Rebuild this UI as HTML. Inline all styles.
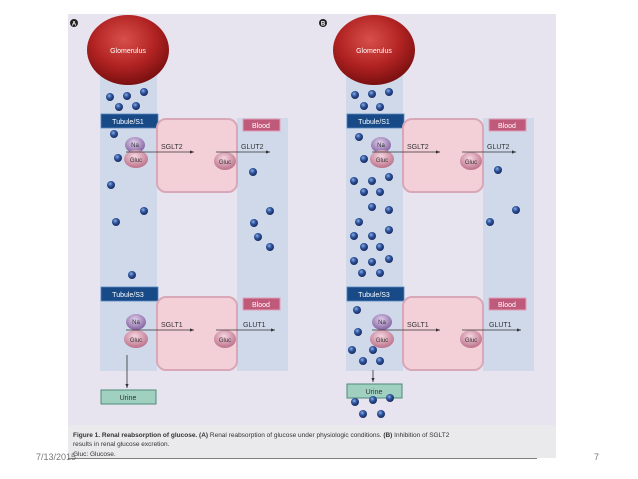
<!DOCTYPE html>
<html><head><style>
html,body{margin:0;padding:0;background:#fff;width:638px;height:479px;overflow:hidden}
svg{display:block}
text{font-family:"Liberation Sans",sans-serif}
</style></head><body>
<svg width="638" height="479" viewBox="0 0 638 479" xmlns="http://www.w3.org/2000/svg">
<defs>
<radialGradient id="glom" cx="45%" cy="35%" r="65%">
<stop offset="0" stop-color="#d8504a"/><stop offset="0.6" stop-color="#b02222"/><stop offset="1" stop-color="#7a1010"/></radialGradient>
<radialGradient id="dot" cx="40%" cy="35%" r="60%"><stop offset="0" stop-color="#8fb0e0"/><stop offset="0.5" stop-color="#2f56a0"/><stop offset="1" stop-color="#1b2f66"/></radialGradient>
<radialGradient id="na" cx="45%" cy="35%" r="60%"><stop offset="0" stop-color="#e0d0ec"/><stop offset="1" stop-color="#8a6aa6"/></radialGradient>
<radialGradient id="gl" cx="45%" cy="35%" r="60%"><stop offset="0" stop-color="#f6d6e0"/><stop offset="1" stop-color="#c07890"/></radialGradient>
<marker id="ar" markerWidth="6" markerHeight="6" refX="5" refY="3" orient="auto"><path d="M0,1 L5,3 L0,5z" fill="#333"/></marker>
<g id="panel">
<rect x="100" y="75" width="57" height="296" fill="#cfd9ea"/>
<rect x="237" y="118" width="51" height="253" fill="#cfd9ea"/>
<ellipse cx="128" cy="50" rx="41" ry="35" fill="url(#glom)"/>
<text x="128" y="53" font-size="7" fill="#fff" text-anchor="middle">Glomerulus</text>
<rect x="101" y="114" width="57" height="14" fill="#174a86" stroke="#5b85c0" stroke-width="0.8"/>
<text x="128" y="124" font-size="7" fill="#fff" text-anchor="middle">Tubule/S1</text>
<rect x="157" y="119" width="80" height="73" rx="9" fill="#f3cfd8" stroke="#d8a8b8" stroke-width="2"/>
<rect x="243" y="119" width="37" height="12" fill="#c05a7a" stroke="#e0a0b8"/>
<text x="261" y="128" font-size="7" fill="#fff" text-anchor="middle">Blood</text>
<ellipse cx="135" cy="145" rx="10" ry="8" fill="url(#na)"/><text x="135" y="147" font-size="6" fill="#333" text-anchor="middle">Na</text>
<ellipse cx="136" cy="159" rx="12" ry="9" fill="url(#gl)"/><text x="136" y="162" font-size="6" fill="#333" text-anchor="middle">Gluc</text>
<line x1="126" y1="152" x2="194" y2="152" stroke="#333" stroke-width="0.8" marker-end="url(#ar)"/>
<text x="161" y="149" font-size="7" fill="#333">SGLT2</text>
<ellipse cx="225" cy="161" rx="11" ry="9" fill="url(#gl)"/><text x="225" y="164" font-size="6" fill="#333" text-anchor="middle">Gluc</text>
<line x1="216" y1="152" x2="270" y2="152" stroke="#333" stroke-width="0.8" marker-end="url(#ar)"/>
<text x="241" y="149" font-size="7" fill="#333">GLUT2</text>
<rect x="101" y="287" width="57" height="14" fill="#174a86" stroke="#5b85c0" stroke-width="0.8"/>
<text x="128" y="297" font-size="7" fill="#fff" text-anchor="middle">Tubule/S3</text>
<rect x="157" y="297" width="80" height="73" rx="9" fill="#f3cfd8" stroke="#d8a8b8" stroke-width="2"/>
<rect x="243" y="298" width="37" height="12" fill="#c05a7a" stroke="#e0a0b8"/>
<text x="261" y="307" font-size="7" fill="#fff" text-anchor="middle">Blood</text>
<ellipse cx="136" cy="322" rx="10" ry="8" fill="url(#na)"/><text x="136" y="324" font-size="6" fill="#333" text-anchor="middle">Na</text>
<ellipse cx="136" cy="339" rx="12" ry="9" fill="url(#gl)"/><text x="136" y="342" font-size="6" fill="#333" text-anchor="middle">Gluc</text>
<line x1="126" y1="330" x2="194" y2="330" stroke="#333" stroke-width="0.8" marker-end="url(#ar)"/>
<text x="161" y="327" font-size="7" fill="#333">SGLT1</text>
<ellipse cx="225" cy="339" rx="11" ry="9" fill="url(#gl)"/><text x="225" y="342" font-size="6" fill="#333" text-anchor="middle">Gluc</text>
<line x1="216" y1="330" x2="275" y2="330" stroke="#333" stroke-width="0.8" marker-end="url(#ar)"/>
<text x="243" y="327" font-size="7" fill="#333">GLUT1</text>
</g>
</defs>
<rect x="68" y="14" width="488" height="411" fill="#e7e4f0"/>
<rect x="68" y="425" width="488" height="33" fill="#eae9ec"/>
<circle cx="74" cy="23" r="4" fill="#222"/><text x="74" y="25.5" font-size="6" fill="#fff" text-anchor="middle" font-weight="bold">A</text>
<circle cx="323" cy="23" r="4" fill="#222"/><text x="323" y="25.5" font-size="6" fill="#fff" text-anchor="middle" font-weight="bold">B</text>
<use href="#panel"/>
<use href="#panel" transform="translate(246,0)"/>
<!-- urine A -->
<line x1="127" y1="355" x2="127" y2="388" stroke="#333" stroke-width="0.8" marker-end="url(#ar)"/>
<rect x="101" y="390" width="55" height="14" fill="#9fd0c0" stroke="#4e8a78"/>
<text x="128" y="400" font-size="7" fill="#333" text-anchor="middle">Urine</text>
<!-- urine B -->
<line x1="373" y1="370" x2="373" y2="382" stroke="#333" stroke-width="0.8" marker-end="url(#ar)"/>
<rect x="347" y="384" width="55" height="14" fill="#9fd0c0" stroke="#4e8a78"/>
<text x="374" y="394" font-size="7" fill="#333" text-anchor="middle">Urine</text>
<g fill="url(#dot)">
<circle cx="110" cy="97" r="4"/><circle cx="127" cy="96" r="4"/><circle cx="144" cy="92" r="4"/><circle cx="119" cy="107" r="4"/><circle cx="136" cy="106" r="4"/>
<circle cx="114" cy="134" r="4"/><circle cx="118" cy="158" r="4"/><circle cx="111" cy="185" r="4"/><circle cx="116" cy="222" r="4"/><circle cx="144" cy="211" r="4"/><circle cx="132" cy="275" r="4"/>
<circle cx="253" cy="172" r="4"/><circle cx="270" cy="211" r="4"/><circle cx="254" cy="223" r="4"/><circle cx="258" cy="237" r="4"/><circle cx="270" cy="247" r="4"/>
<circle cx="355" cy="95" r="4"/><circle cx="372" cy="94" r="4"/><circle cx="389" cy="92" r="4"/><circle cx="364" cy="106" r="4"/><circle cx="380" cy="107" r="4"/>
<circle cx="359" cy="137" r="4"/><circle cx="364" cy="159" r="4"/><circle cx="354" cy="181" r="4"/><circle cx="372" cy="181" r="4"/><circle cx="389" cy="177" r="4"/><circle cx="364" cy="192" r="4"/><circle cx="380" cy="192" r="4"/><circle cx="372" cy="207" r="4"/><circle cx="389" cy="210" r="4"/><circle cx="359" cy="222" r="4"/><circle cx="354" cy="236" r="4"/><circle cx="372" cy="236" r="4"/><circle cx="389" cy="230" r="4"/><circle cx="364" cy="247" r="4"/><circle cx="380" cy="247" r="4"/><circle cx="354" cy="261" r="4"/><circle cx="372" cy="262" r="4"/><circle cx="389" cy="259" r="4"/><circle cx="362" cy="273" r="4"/><circle cx="380" cy="273" r="4"/>
<circle cx="498" cy="170" r="4"/><circle cx="516" cy="210" r="4"/><circle cx="490" cy="222" r="4"/>
<circle cx="357" cy="310" r="4"/><circle cx="358" cy="332" r="4"/><circle cx="352" cy="350" r="4"/><circle cx="373" cy="350" r="4"/><circle cx="363" cy="361" r="4"/><circle cx="380" cy="361" r="4"/>
<circle cx="355" cy="402" r="4"/><circle cx="373" cy="400" r="4"/><circle cx="390" cy="398" r="4"/><circle cx="363" cy="414" r="4"/><circle cx="381" cy="414" r="4"/>
</g>
<text x="73" y="437" font-size="6.5" fill="#333"><tspan font-weight="bold">Figure 1. Renal reabsorption of glucose. (A)</tspan> Renal reabsorption of glucose under physiologic conditions. <tspan font-weight="bold">(B)</tspan> Inhibition of SGLT2</text>
<text x="73" y="446" font-size="6.5" fill="#333">results in renal glucose excretion.</text>
<text x="73" y="456" font-size="6.5" fill="#333">Gluc: Glucose.</text>
<text x="36" y="460" font-size="9" fill="#777">7/13/2015</text>
<line x1="68" y1="458.5" x2="537" y2="458.5" stroke="#555" stroke-width="0.8"/>
<text x="594" y="460" font-size="9" fill="#777">7</text>
</svg>
</body></html>
